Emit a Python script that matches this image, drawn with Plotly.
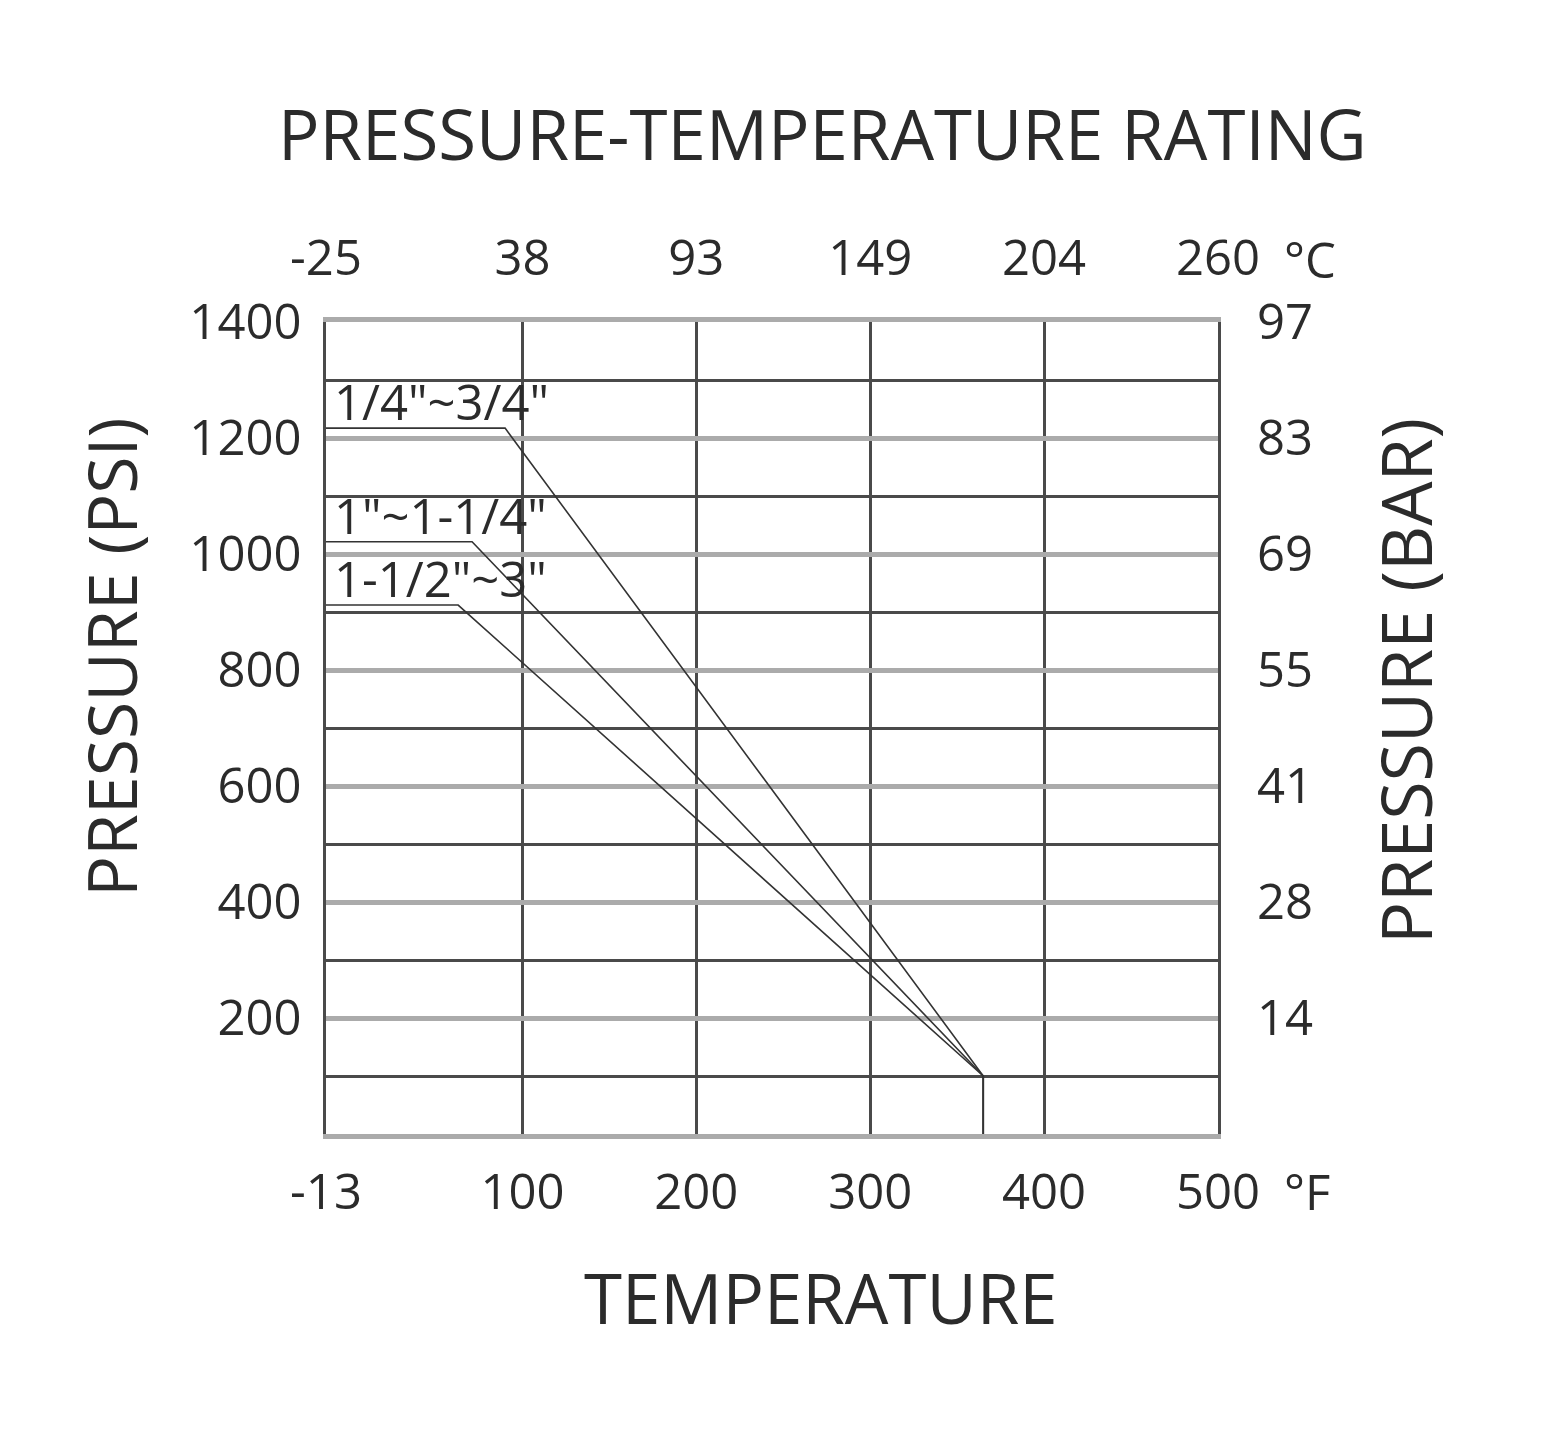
import plotly.graph_objects as go

# ---- data ----
temp_f_ticks = [-13, 100, 200, 300, 400, 500]
temp_f_labels = ["-13", "100", "200", "300", "400", "500"]
temp_c_labels = ["-25", "38", "93", "149", "204", "260"]
psi_ticks = [0, 200, 400, 600, 800, 1000, 1200, 1400]
psi_labels = ["", "200", "400", "600", "800", "1000", "1200", "1400"]
bar_labels = ["", "14", "28", "41", "55", "69", "83", "97"]

series_names = ['1/4"~3/4"', '1"~1-1/4"', '1-1/2"~3"']
series_temp = [
    [-13, 90, 365, 365],
    [-13, 71, 365, 365],
    [-13, 63, 365, 365],
]
series_psi = [
    [1217, 1217, 100, 0],
    [1021, 1021, 100, 0],
    [912, 912, 100, 0],
]

FONT = "Open Sans"
TXT = "#2b2b2b"
DARK = "#4a4a4a"
LIGHT = "#ababab"

fig = go.Figure()
for name, xs, ys in zip(series_names, series_temp, series_psi):
    fig.add_trace(go.Scatter(x=xs, y=ys, mode="lines", name=name,
                             line=dict(color="#333333", width=1.6),
                             showlegend=False, hoverinfo="skip"))
    fig.add_annotation(x=xs[0], y=ys[0], xref="x", yref="y", text=name,
                       showarrow=False, xanchor="left", yanchor="bottom",
                       xshift=6, yshift=-8,
                       font=dict(family=FONT, size=49, color=TXT))

# invisible trace to activate secondary axes
fig.add_trace(go.Scatter(x=[-13], y=[0], xaxis="x2", yaxis="y2", mode="markers",
                         marker=dict(opacity=0), showlegend=False, hoverinfo="skip"))

L, R, T, B = 326, 350, 322, 319
W, H = 1568, 1453
pw, ph = W - L - R, H - T - B

fig.update_layout(
    width=W, height=H,
    margin=dict(l=L, r=R, t=T, b=B),
    paper_bgcolor="white", plot_bgcolor="white",
    font=dict(family=FONT, color=TXT),
    xaxis=dict(range=[-13, 500], tickvals=temp_f_ticks, ticktext=temp_f_labels,
               showgrid=True, gridcolor=DARK, gridwidth=2.5, zeroline=False,
               showline=True, linecolor=LIGHT, linewidth=5, mirror=True,
               ticks="", ticklabelstandoff=11,
               tickfont=dict(family=FONT, size=49, color=TXT)),
    xaxis2=dict(range=[-13, 500], overlaying="x", side="top",
                tickvals=temp_f_ticks, ticktext=temp_c_labels,
                showgrid=False, zeroline=False, showline=False, ticks="",
                ticklabelstandoff=36,
                tickfont=dict(family=FONT, size=49, color=TXT)),
    yaxis=dict(range=[0, 1400], tickvals=psi_ticks, ticktext=psi_labels,
               showgrid=True, gridcolor=LIGHT, gridwidth=5, zeroline=False,
               showline=True, linecolor=DARK, linewidth=2.5, mirror=True,
               ticks="", ticklabelstandoff=12,
               minor=dict(dtick=100, tick0=0, showgrid=True, gridcolor=DARK, gridwidth=2.5),
               tickfont=dict(family=FONT, size=49, color=TXT)),
    yaxis2=dict(range=[0, 1400], overlaying="y", side="right",
                tickvals=psi_ticks, ticktext=bar_labels,
                showgrid=False, zeroline=False, showline=False, ticks="",
                ticklabelstandoff=38,
                tickfont=dict(family=FONT, size=49, color=TXT)),
)

# unit suffixes next to the last tick labels
fig.add_annotation(xref="paper", yref="paper", x=(1282 - L) / pw, y=-(1191 - (T + ph)) / ph,
                   text="°F", showarrow=False, xanchor="left", yanchor="middle",
                   font=dict(family=FONT, size=49, color=TXT))
fig.add_annotation(xref="paper", yref="paper", x=(1282 - L) / pw, y=1 + (T - 259) / ph,
                   text="°C", showarrow=False, xanchor="left", yanchor="middle",
                   font=dict(family=FONT, size=49, color=TXT))

# titles
fig.add_annotation(xref="paper", yref="paper", x=(822 - L) / pw, y=1 + (T - 133) / ph,
                   text="PRESSURE-TEMPERATURE RATING", showarrow=False,
                   xanchor="center", yanchor="middle",
                   font=dict(family=FONT, size=69, color=TXT))
fig.add_annotation(xref="paper", yref="paper", x=(821 - L) / pw, y=-(1297 - (T + ph)) / ph,
                   text="TEMPERATURE", showarrow=False,
                   xanchor="center", yanchor="middle",
                   font=dict(family=FONT, size=69, color=TXT))
fig.add_annotation(xref="paper", yref="paper", x=(110 - L) / pw, y=1 - (657 - T) / ph,
                   text="PRESSURE (PSI)", showarrow=False, textangle=-90,
                   xanchor="center", yanchor="middle",
                   font=dict(family=FONT, size=68, color=TXT))
fig.add_annotation(xref="paper", yref="paper", x=(1405 - L) / pw, y=1 - (681 - T) / ph,
                   text="PRESSURE (BAR)", showarrow=False, textangle=-90,
                   xanchor="center", yanchor="middle",
                   font=dict(family=FONT, size=70, color=TXT))

fig.write_html("out.html")
